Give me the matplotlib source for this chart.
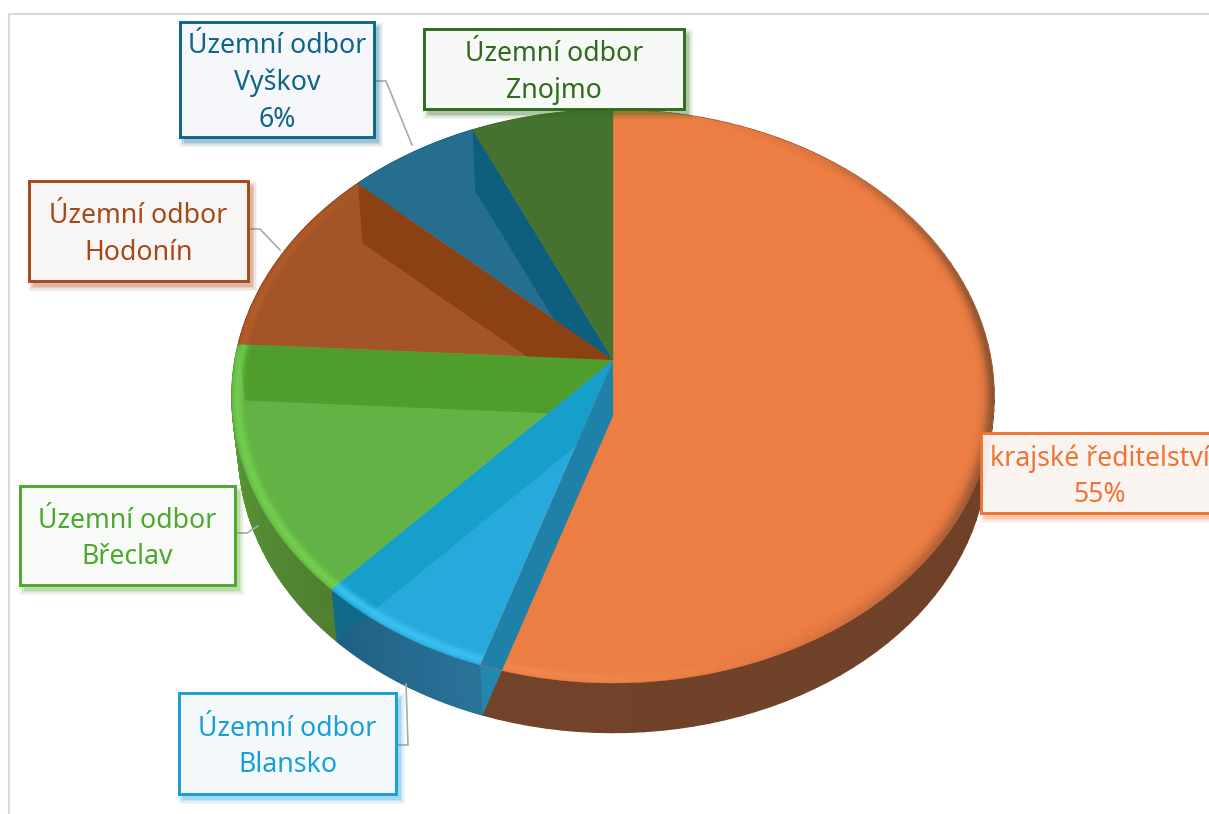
import numpy as np
import matplotlib
matplotlib.use("Agg")
import matplotlib.pyplot as plt
from matplotlib.collections import LineCollection, PolyCollection
from matplotlib.colors import to_rgb
from matplotlib.patches import Polygon, Rectangle

plt.rcParams['font.family'] = ['Noto Sans', 'DejaVu Sans']

# data, clockwise from 12 o'clock
categories = ["krajské ředitelství", "Územní odbor Blansko", "Územní odbor Břeclav",
              "Územní odbor Hodonín", "Územní odbor Vyškov", "Územní odbor Znojmo"]
values = [55.0, 6.8, 14.1, 11.0, 6.3, 6.8]
label_texts = ["krajské ředitelství\n55%", "Územní odbor\nBlansko", "Územní odbor\nBřeclav",
               "Územní odbor\nHodonín", "Územní odbor\nVyškov\n6%", "Územní odbor\nZnojmo"]

# colours per slice
face_colors = ['#ec7d43', '#27a9dc', '#62b246', '#a35428', '#266e8f', '#45722f']
band_face_colors = ['#2081a8', '#159fca', '#4f9e2d', '#8b4113', '#0d5f7d', '#45722f']
band_wall_colors = ['#2288b0', '#106a88', '#4f9e2d', '#8b4113', '#0d5f7d', '#45722f']
wall_start_colors = ['#6c3e28', '#2a7398', '#4f7f30', '#8b4113', '#0d5f7d', '#45722f']
wall_end_colors = ['#72432a', '#205f82', '#5aa038', '#8b4113', '#0d5f7d', '#45722f']
bevel_colors = ['#f28c52', '#3fc6f5', '#74d24f', '#b8602a', '#2a7a9c', '#45722f']
text_colors = ['#ee7434', '#16a0d8', '#4ea72e', '#a5481a', '#0f6489', '#2f6a1f']
box_faces = ['#fbf8f6', '#f5f9fc', '#f7faf6', '#f8f6f5', '#f5f7fa', '#f6f9f5']
box_alpha = [0.93, 1, 1, 1, 1, 1]
band_over_bevel = [True, False, False, False, False, False]

# label boxes in figure pixels: left, top, right, bottom
boxes = [(981, 433, 1219, 513), (179, 693, 396, 794), (20, 486, 235, 585),
         (29, 181, 248, 281), (180, 22, 374, 137), (424, 29, 684, 109)]
leaders = [None,
           [(396, 745), (408, 745), (406, 684)],
           [(235, 533), (247, 533), (258, 526)],
           [(248, 229), (260, 229), (280, 250)],
           [(374, 81), (386, 81), (412, 145)],
           None]

# projection of the tilted disc
apex_x, apex_y = 613.0, 360.0
scale_x, scale_y, persp = 378.0, 282.0, 0.127


def project(radius, theta):
    u = radius * np.sin(theta)
    v = radius * np.cos(theta)
    w = 1 + persp * v
    return apex_x + scale_x * u / w, apex_y - scale_y * v / w


def drop(x, y):
    # same point on the bottom surface of the pie
    return x - (x - apex_x) * 0.018, y + 56 - 0.02 * (y - apex_y)


def mix(a, b, t):
    a, b = np.array(to_rgb(a)), np.array(to_rgb(b))
    return tuple(a + (b - a) * t)


fig = plt.figure(figsize=(12.09, 8.14), dpi=100)
ax = fig.add_axes([0, 0, 1, 1])
ax.set_xlim(0, 1209)
ax.set_ylim(814, 0)
ax.axis('off')

# light frame of the chart area
ax.plot([9, 9, 1209], [814, 14, 14], color='#d9d9d9', lw=1.5, zorder=0)

edges = np.radians(np.concatenate([[0], np.cumsum(values)]) * 3.6)
apex_low = drop(apex_x, apex_y)

slices = []
for i in range(len(values)):
    th = np.linspace(edges[i], edges[i + 1], 90)
    rx, ry = project(1.0, th)
    bx, by = drop(rx, ry)
    slices.append((th, rx, ry, bx, by))

# outer walls
wall_patches = []
for i, (th, rx, ry, bx, by) in enumerate(slices):
    quads = [[(rx[k], ry[k]), (rx[k + 1], ry[k + 1]), (bx[k + 1], by[k + 1]), (bx[k], by[k])]
             for k in range(len(th) - 1)]
    cols = [mix(wall_start_colors[i], wall_end_colors[i], k / (len(th) - 2)) for k in range(len(th) - 1)]
    ax.add_collection(PolyCollection(quads, facecolors=cols, edgecolors=cols, linewidths=1.0, zorder=1))
    wall = Polygon(np.column_stack([np.r_[rx, bx[::-1]], np.r_[ry, by[::-1]]]), transform=ax.transData)
    wall_patches.append(wall)


def band_polygon(i, color, clip, zorder):
    # cut face of the slice, seen through the top surface
    _, rx, ry, bx, by = slices[i]
    pts = [(apex_x, apex_y), (rx[-1], ry[-1]), (bx[-1], by[-1]), apex_low]
    poly = Polygon(pts, closed=True, facecolor=color, edgecolor='none', zorder=zorder)
    ax.add_patch(poly)
    poly.set_clip_path(clip)


for i in range(len(values)):
    band_polygon(i, band_wall_colors[i], wall_patches[i], 2)


def draw_bevel(i, clip, zorder):
    th = slices[i][0]
    light = np.clip(np.cos(th[:-1] - np.radians(235)), 0, 1)
    dark = np.clip(np.cos(th[:-1] - np.radians(95)), 0, 1) ** 3
    for r in np.arange(0.998, 0.958, -0.006):
        rx, ry = project(r, th)
        pts = np.column_stack([rx, ry])
        segs = np.stack([pts[:-1], pts[1:]], axis=1)
        prof_l = np.exp(-((r - 0.985) / 0.012) ** 2)
        prof_d = np.exp(-((r - 1.0) / 0.02) ** 2)
        for color, amount in ((bevel_colors[i], light * prof_l), ('#7a4a2c', dark * prof_d * 0.85)):
            rgba = np.zeros((len(segs), 4))
            rgba[:, :3] = to_rgb(color)
            rgba[:, 3] = amount
            lines = LineCollection(segs, colors=rgba, linewidths=1.8, zorder=zorder, capstyle='butt')
            ax.add_collection(lines)
            lines.set_clip_path(clip)


# top faces, bands and the rim bevel
for i, (th, rx, ry, bx, by) in enumerate(slices):
    outline = np.column_stack([np.r_[apex_x, rx], np.r_[apex_y, ry]])
    face = Polygon(outline, closed=True, facecolor=face_colors[i], edgecolor=face_colors[i], lw=0.3, zorder=3)
    ax.add_patch(face)
    if band_over_bevel[i]:
        draw_bevel(i, face, 4)
        band_polygon(i, band_face_colors[i], face, 5)
    else:
        band_polygon(i, band_face_colors[i], face, 4)
        draw_bevel(i, face, 5)

# data labels
for i, (left, top, right, bottom) in enumerate(boxes):
    if leaders[i] is not None:
        xs, ys = zip(*leaders[i])
        ax.plot(xs, ys, color='#a9a9a9', lw=1.2, zorder=6)
    for grow, alpha in zip([5, 3.5, 2, 0.5], [0.06, 0.09, 0.13, 0.18]):
        ax.add_patch(Rectangle((left + 4 - grow, top + 5 - grow), right - left + 2 * grow, bottom - top + 2 * grow,
                               facecolor=text_colors[i], edgecolor='none', alpha=alpha, zorder=7))
    ax.add_patch(Rectangle((left, top), right - left, bottom - top, facecolor=box_faces[i],
                           edgecolor='none', alpha=box_alpha[i], zorder=8))
    ax.add_patch(Rectangle((left, top), right - left, bottom - top, facecolor='none',
                           edgecolor=text_colors[i], lw=2.1, zorder=8))
    ax.text((left + right) / 2, (top + bottom) / 2 + 3.5, label_texts[i], color=text_colors[i],
            fontsize=19.2, ha='center', va='center', linespacing=1.4, zorder=9)

fig.savefig("out.png", dpi=100)
